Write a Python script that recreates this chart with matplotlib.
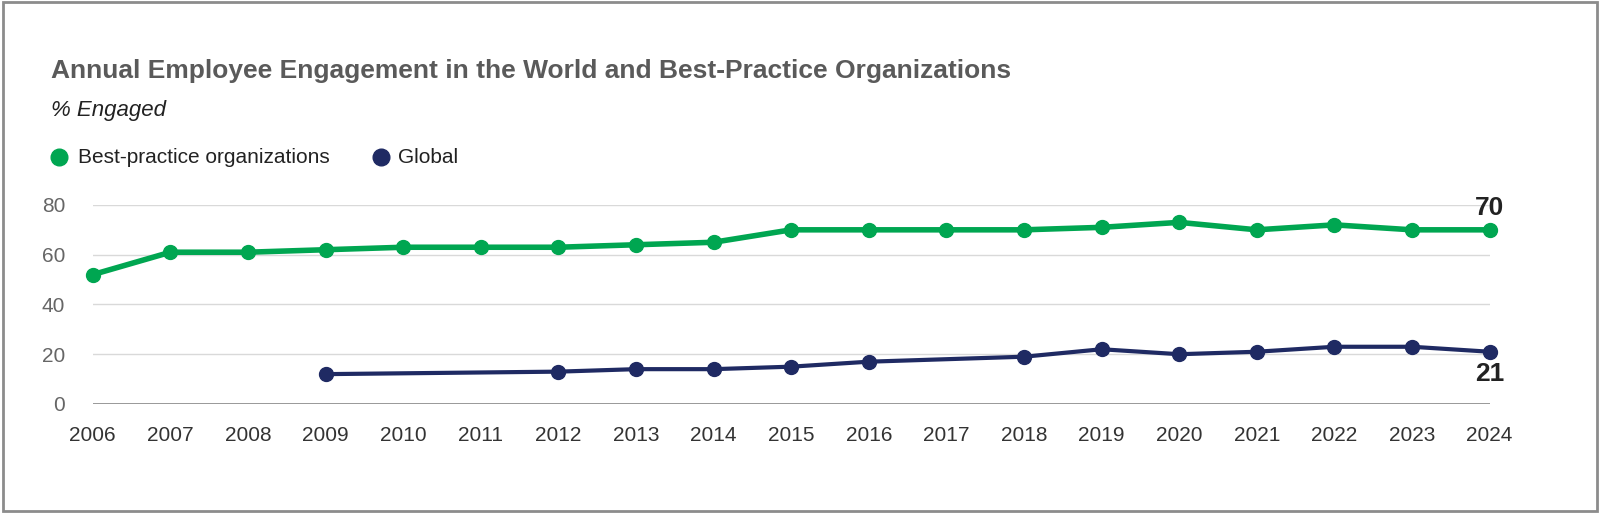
import matplotlib
matplotlib.use("Agg")
import matplotlib.pyplot as plt
from matplotlib.patches import Rectangle

plt.rcParams["font.family"] = "Liberation Sans"

years = list(range(2006, 2025))
best = [52, 61, 61, 62, 63, 63, 63, 64, 65, 70, 70, 70, 70, 71, 73, 70, 72, 70, 70]
g_years = [2009, 2012, 2013, 2014, 2015, 2016, 2018, 2019, 2020, 2021, 2022, 2023, 2024]
glob = [12, 13, 14, 14, 15, 17, 19, 22, 20, 21, 23, 23, 21]
yticks = [0, 20, 40, 60, 80]

GREEN = "#00a651"
NAVY = "#1f2a63"

fig = plt.figure(figsize=(16, 5.13), dpi=100)
fig.patches.append(Rectangle((0.002, 0.003), 0.996, 0.994, transform=fig.transFigure,
                             fill=False, edgecolor="#8c8c8c", linewidth=2))
ax = fig.add_axes([0.058, 0.2125, 0.873, 0.388])
ax.set_xlim(2006, 2024)
ax.set_ylim(0, 80)
for y in yticks[1:]:
    ax.axhline(y, color="#d9d9d9", lw=1, zorder=0)
ax.axhline(0, color="#888888", lw=1.2, zorder=0)
ax.plot(years, best, color=GREEN, lw=4, marker="o", ms=10, clip_on=False, zorder=3)
ax.plot(g_years, glob, color=NAVY, lw=3, marker="o", ms=10, clip_on=False, zorder=3)
for s in ax.spines.values():
    s.set_visible(False)
ax.set_xticks(years)
ax.set_xticklabels([str(y) for y in years])
ax.set_yticks(yticks)
ax.tick_params(length=0, labelsize=15, colors="#333333", pad=16)
ax.tick_params(axis="y", colors="#666666", pad=20)
ax.text(2024, best[-1] + 4, str(best[-1]), ha="center", va="bottom", fontsize=19, fontweight="bold", color="#222222")
ax.text(2024, glob[-1] - 4, str(glob[-1]), ha="center", va="top", fontsize=19, fontweight="bold", color="#222222")

fig.text(0.032, 0.862, "Annual Employee Engagement in the World and Best-Practice Organizations",
         fontsize=19, fontweight="bold", color="#5a5a5a", va="center")
fig.text(0.032, 0.785, "% Engaged", fontsize=16, style="italic", color="#222222", va="center")
fig.lines.append(plt.Line2D([0.037], [0.693], marker="o", ms=12, color=GREEN, transform=fig.transFigure))
fig.text(0.049, 0.693, "Best-practice organizations", fontsize=15, color="#222222", va="center")
fig.lines.append(plt.Line2D([0.238], [0.693], marker="o", ms=12, color=NAVY, transform=fig.transFigure))
fig.text(0.249, 0.693, "Global", fontsize=15, color="#222222", va="center")
fig.savefig("out.png", dpi=100)
